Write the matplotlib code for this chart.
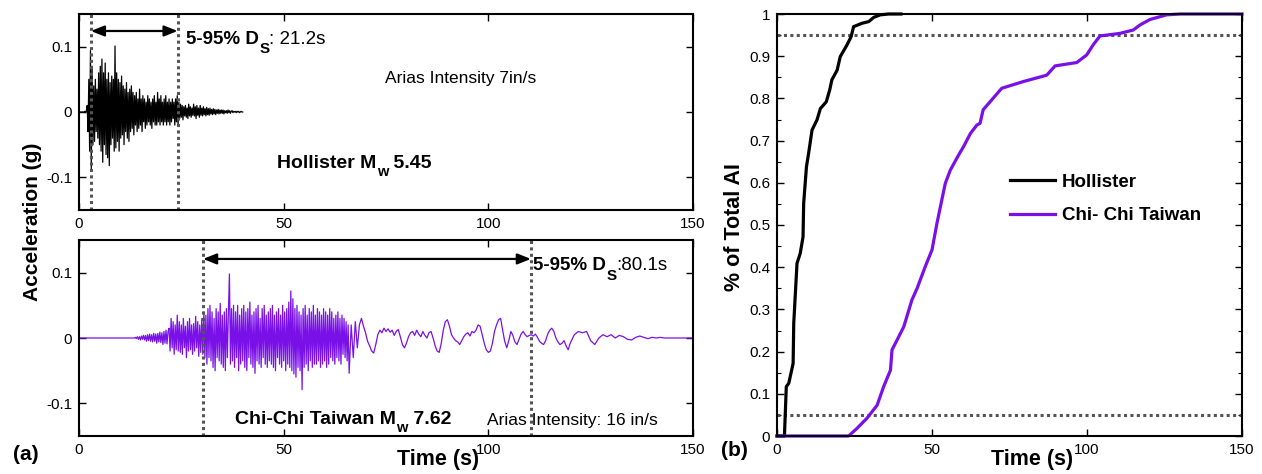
import numpy as np
import matplotlib
matplotlib.use('Agg')
import matplotlib.pyplot as plt
from matplotlib.patches import Rectangle
from matplotlib.ticker import MultipleLocator, FormatStrFormatter

plt.rcParams['font.family'] = ['Liberation Sans', 'DejaVu Sans']
plt.rcParams['mathtext.fontset'] = 'custom'
plt.rcParams['mathtext.rm'] = 'Liberation Sans'
plt.rcParams['mathtext.bf'] = 'Liberation Sans:bold'
plt.rcParams['axes.unicode_minus'] = False

# ---------------- data ----------------
# Hollister acceleration (g), sampled every 0.2 s from t = 0
hollister_t0 = 0.0
hollister_dt = 0.2
hollister_acc = [
    0, 0, 0, 0, 0, 0, 0, 0.001, -0.001, 0.002,
    0.01, -0.03, 0.05, -0.06, 0.094, -0.087, 0.07, -0.05, 0.04, -0.045,
    0.05, -0.03, 0.035, -0.04, 0.06, -0.05, 0.07, -0.06, 0.081, -0.077,
    0.06, -0.05, 0.075, -0.065, 0.05, -0.07, 0.06, -0.082, 0.045, -0.05,
    0.055, -0.04, 0.05, -0.06, 0.101, -0.055, 0.06, -0.045, 0.05, -0.06,
    0.045, -0.04, 0.055, -0.035, 0.04, -0.05, 0.035, -0.03, 0.045, -0.04,
    0.03, -0.045, 0.035, -0.03, 0.04, -0.025, 0.03, -0.035, 0.025, -0.02,
    0.03, -0.03, 0.02, -0.025, 0.035, -0.02, 0.02, -0.03, 0.025, -0.015,
    0.02, -0.025, 0.015, -0.02, 0.025, -0.015, 0.02, -0.02, 0.015, -0.025,
    0.02, -0.015, 0.025, -0.02, 0.015, -0.02, 0.03, -0.015, 0.02, -0.02,
    0.025, -0.015, 0.015, -0.02, 0.02, -0.015, 0.025, -0.02, 0.015, -0.015,
    0.02, -0.02, 0.015, -0.015, 0.02, -0.01, 0.015, -0.02, 0.02, -0.015,
    0.025, -0.02, 0.015, -0.01, 0.012, -0.008, 0.01, -0.012, 0.008, -0.006,
    0.01, -0.008, 0.006, -0.01, 0.012, -0.006, 0.008, -0.008, 0.006, -0.005,
    0.012, -0.006, 0.008, -0.01, 0.01, -0.005, 0.006, -0.008, 0.01, -0.005,
    0.006, -0.006, 0.008, -0.004, 0.005, -0.006, 0.007, -0.004, 0.005, -0.005,
    0.006, -0.003, 0.004, -0.004, 0.005, -0.003, 0.004, -0.004, 0.003, -0.002,
    0.004, -0.003, 0.003, -0.002, 0.003, -0.002, 0.003, -0.003, 0.002, -0.001,
    0.002, -0.002, 0.003, -0.001, 0.002, -0.002, 0.001, 0.002, -0.001, 0.001,
    0.0, 0.001, -0.001, 0.001, 0.0, 0.001, -0.001, 0.0, 0.001, 0.0, 0.0,
]

# Chi-Chi Taiwan acceleration (g), in segments (start time, step, values)
chichi_quiet_t0, chichi_quiet_dt = 0.0, 13.5
chichi_quiet = [0.0, 0.0]

chichi_p_t0, chichi_p_dt = 13.75, 0.25
chichi_p = [0.001, -0.001, 0.002, -0.002, 0.002, -0.003, 0.003, -0.002, 0.004, -0.003,
            0.004, -0.005, 0.005, -0.004, 0.006, -0.005, 0.005, -0.006, 0.007, -0.005,
            0.006, -0.008, 0.007, -0.006, 0.009, -0.007, 0.008, -0.01, 0.01, -0.008,
            0.012, -0.009, 0.01]

chichi_s_t0, chichi_s_dt = 22.0, 0.25
chichi_s = [
    0.015, -0.02, 0.03, -0.015, 0.025, -0.025, 0.02, -0.018,
    0.035, -0.02, 0.025, -0.022, 0.02, -0.025, 0.03, -0.015,
    0.018, -0.03, 0.025, -0.02, 0.03, -0.018, 0.02, -0.025,
    0.022, -0.02, 0.033, -0.015, 0.025, -0.028, 0.02, -0.022,
    0.03, -0.025, 0.04, -0.03, 0.035, -0.04, 0.045, -0.03,
    0.05, -0.035, 0.04, -0.045, 0.03, -0.05, 0.045, -0.03,
    0.04, -0.035, 0.053, -0.04, 0.035, -0.045, 0.04, -0.05,
    0.045, -0.03, 0.04, 0.098, -0.04, 0.045, -0.035, 0.05,
    -0.045, 0.04, -0.03, 0.05, -0.05, 0.035, -0.04, 0.045,
    -0.035, 0.05, -0.045, 0.04, -0.05, 0.045, -0.03, 0.055,
    -0.04, 0.035, -0.045, 0.04, -0.054, 0.045, -0.035, 0.05,
    -0.04, 0.03, -0.045, 0.045, -0.03, 0.05, -0.04, 0.035,
    -0.045, 0.04, -0.035, 0.045, -0.04, 0.05, -0.045, 0.035,
    -0.05, 0.04, -0.03, 0.045, -0.04, 0.035, -0.045, 0.05,
    -0.035, 0.04, -0.05, 0.045, -0.04, 0.055, -0.045, 0.072,
    -0.05, 0.06, -0.055, 0.045, -0.06, 0.05, -0.045, 0.04,
    -0.05, 0.035, -0.079, 0.045, -0.045, 0.05, -0.04, 0.035,
    -0.05, 0.045, -0.035, 0.04, -0.045, 0.05, -0.04, 0.035,
    -0.04, 0.045, -0.035, 0.04, -0.045, 0.035, -0.04, 0.045,
    -0.035, 0.04, -0.045, 0.035, -0.04, 0.045, -0.03, 0.04,
    -0.035, 0.03, -0.04, 0.035, -0.03, 0.04, -0.035, 0.03,
    -0.04, 0.035, -0.025, 0.03, -0.03, 0.025, -0.035, 0.02,
]

chichi_c_t0, chichi_c_dt = 66.0, 0.5
chichi_c = [
    -0.054, 0.02, -0.03, 0.025, -0.015, 0.02, 0.03, 0.018, 0.008, -0.005,
    -0.012, -0.02, -0.023, -0.01, 0.005, 0.012, 0.008, 0.015, 0.01, 0.014,
    0.009, 0.012, 0.004, 0.01, 0.013, 0.002, -0.01, -0.015, -0.008, 0.002,
    0.008, 0.01, 0.004, 0.012, 0.006, 0.002, 0.01, 0.004, 0.0, 0.008,
    0.01, 0.0, -0.012, -0.02, -0.022, -0.008, 0.012, 0.025, 0.028, 0.018,
    0.005, 0.0, -0.004, -0.006, -0.01, -0.004, 0.002, 0.006, 0.008, 0.003,
    0.01, 0.008, 0.012, 0.02, 0.018, 0.005, -0.008, -0.018, -0.022, -0.02,
    -0.008, 0.01, 0.02, 0.028, 0.03, 0.012, -0.005, -0.015, -0.004, 0.01,
    0.004, -0.006, -0.01, -0.002, 0.006, 0.01, 0.005, 0.002, 0.004, 0.005,
    0.003, 0.006, 0.001, -0.005, -0.008, -0.01, -0.004, 0.006, 0.012, 0.015,
    0.01, 0.0, -0.006, -0.01, -0.008, -0.004, -0.012, -0.018,
]

chichi_e_t0, chichi_e_dt = 120.0, 1.0
chichi_e = [-0.008, 0.005, 0.01, 0.008, 0.01, -0.004, -0.01, 0.0, 0.005, 0.002,
            0.005, 0.0, 0.004, 0.002, -0.002, -0.003, 0.001, 0.003, 0.001, -0.001,
            0.001, 0.0, 0.001, 0.0, 0.0, 0.0, 0.0, 0.0, 0.0, 0.0, 0.0]

# 5-95 % significant duration bounds (s)
hollister_d5, hollister_d95 = 2.9, 24.1
chichi_d5, chichi_d95 = 30.3, 110.4

# Normalised cumulative Arias intensity
hollister_cdf_t = [0, 2.4, 3.0, 3.8, 5.2, 5.4, 6.45, 7.5, 8.4, 8.6, 9.5, 10.2, 11.3, 12.9,
                   14.0, 15.9, 17.0, 17.7, 19.4, 20.4, 22.6, 23.9, 24.7, 27.4, 29.6,
                   31.2, 33.3, 36.0, 40.0]
hollister_cdf = [0, 0, 0.117, 0.125, 0.172, 0.267, 0.409, 0.433, 0.472, 0.551, 0.638,
                 0.670, 0.725, 0.749, 0.776, 0.792, 0.820, 0.844, 0.867, 0.899, 0.927,
                 0.946, 0.970, 0.978, 0.982, 0.992, 0.998, 1.0, 1.0]
chichi_cdf_t = [0, 23.1, 25.8, 29.0, 32.3, 34.4, 36.6, 37.1, 38.7, 40.9, 43.5, 45.2,
                47.8, 50.0, 51.6, 52.7, 54.3, 55.9, 58.6, 60.2, 62.4, 64.5, 65.5, 66.5,
                69.2, 72.5, 79.5, 87.0, 89.7, 96.7, 99.9, 102.0, 104.2, 110.6, 114.9,
                117.1, 120.3, 125.7, 130.0, 150.0]
chichi_cdf = [0, 0, 0.018, 0.042, 0.073, 0.117, 0.156, 0.204, 0.227, 0.259, 0.322,
              0.350, 0.401, 0.441, 0.504, 0.543, 0.599, 0.630, 0.666, 0.686, 0.717,
              0.737, 0.741, 0.773, 0.796, 0.824, 0.840, 0.855, 0.877, 0.885, 0.903,
              0.927, 0.948, 0.954, 0.962, 0.974, 0.987, 0.998, 1.0, 1.0]

series_names = ['Hollister', 'Chi- Chi Taiwan']
x_ticks = [0, 50, 100, 150]

# ---------------- build arrays ----------------
def seg_times(t0, dt, vals):
    return t0 + dt * np.arange(len(vals))

h_t = seg_times(hollister_t0, hollister_dt, hollister_acc)
h_a = np.array(hollister_acc)
c_t = np.concatenate([seg_times(chichi_quiet_t0, chichi_quiet_dt, chichi_quiet),
                      seg_times(chichi_p_t0, chichi_p_dt, chichi_p),
                      seg_times(chichi_s_t0, chichi_s_dt, chichi_s),
                      seg_times(chichi_c_t0, chichi_c_dt, chichi_c),
                      seg_times(chichi_e_t0, chichi_e_dt, chichi_e)])
c_a = np.concatenate([chichi_quiet, chichi_p, chichi_s, chichi_c, chichi_e])

PURPLE = '#7a10e8'
DOTC = '#555555'
dot_style = dict(color=DOTC, lw=2.2, ls=(0, (1, 1.1)))

fig = plt.figure(figsize=(12.62, 4.74), dpi=100)
W, H = 1262, 474

def px_axes(x0, y0, x1, y1):
    return fig.add_axes([x0 / W, 1 - y1 / H, (x1 - x0) / W, (y1 - y0) / H])

ax1 = px_axes(79, 14, 693, 210)
ax2 = px_axes(79, 240, 693, 436)
ax3 = px_axes(777, 14, 1242, 436)

def style(ax):
    for s in ax.spines.values():
        s.set_linewidth(1.5)
    ax.tick_params(direction='in', top=True, right=True, labelsize=11,
                   length=5, width=1, pad=5)
    ax.tick_params(which='minor', direction='in', top=True, right=True,
                   length=3, width=0.8)
    ax.set_xlim(0, 150)
    ax.set_xticks(x_ticks)

def sub_text(ax, x, y, main, sub, rest, size, subsize, drop, rest_bold):
    """main text (bold) + lowered bold subscript + trailing text, baseline aligned"""
    t = ax.text(x, y, main, fontsize=size, fontweight='bold', va='baseline', ha='left')
    s = ax.annotate(sub, xy=(1, 0), xycoords=t, xytext=(0.3, -drop),
                    textcoords='offset points', fontsize=subsize, fontweight='bold',
                    va='bottom', ha='left')
    ax.annotate(rest, xy=(1, 0), xycoords=(s, t), fontsize=size,
                fontweight='bold' if rest_bold else 'normal', va='bottom', ha='left')
    return t

for ax in (ax1, ax2):
    style(ax)
    ax.set_ylim(-0.15, 0.15)
    ax.set_yticks([-0.1, 0, 0.1])
    ax.yaxis.set_major_formatter(FormatStrFormatter('%g'))

arrow_props = dict(arrowstyle='<|-|>,head_length=0.8,head_width=0.32',
                   color='black', lw=1.6, shrinkA=0, shrinkB=0)

# --- top: Hollister ---
ax1.plot(h_t, h_a, color='black', lw=0.9)
for xv in (hollister_d5, hollister_d95):
    ax1.axvline(xv, **dot_style)
ax1.annotate('', xy=(hollister_d5, 0.124), xytext=(hollister_d95, 0.124),
             arrowprops=arrow_props)
sub_text(ax1, 26.1, 0.104, '5-95% D', 'S', ': 21.2s', 13.5, 11, 6, False)
ta = ax1.text(74.8, 0.0442, 'Arias Intensity 7in/s', fontsize=12.5,
              va='baseline', ha='left')
ta.set_clip_path(Rectangle((0, 0.0455), 150, 0.2, transform=ax1.transData))
sub_text(ax1, 48.4, -0.086, 'Hollister M', 'w', ' 5.45', 14, 10.5, 5, True)

# --- bottom: Chi-Chi ---
ax2.plot(c_t, c_a, color=PURPLE, lw=0.9)
for xv in (chichi_d5, chichi_d95):
    ax2.axvline(xv, **dot_style)
ax2.annotate('', xy=(chichi_d5, 0.121), xytext=(chichi_d95, 0.121),
             arrowprops=arrow_props)
sub_text(ax2, 110.9, 0.1045, '5-95% D', 'S', ':80.1s', 13.5, 11, 6.5, False)
sub_text(ax2, 38.1, -0.131, 'Chi-Chi Taiwan M', 'w', ' 7.62', 14, 10.5, 5, True)
ax2.text(99.7, -0.133, 'Arias Intensity: 16 in/s', fontsize=12.5, va='baseline',
         ha='left')
ax2.set_xlabel('Time (s)', fontsize=15.5, fontweight='bold')
ax2.xaxis.set_label_coords((438 - 79) / 614, (436 - 459) / 196)
ax2.xaxis.label.set_va('center')

fig.text(33 / W, 1 - 222 / H, 'Acceleration (g)', rotation=90, fontsize=15,
         fontweight='bold', ha='center', va='center')
fig.text(25.5 / W, 1 - 454 / H, '(a)', fontsize=15, fontweight='bold',
         ha='center', va='center')

# --- right: cumulative AI ---
style(ax3)
ax3.set_ylim(0, 1)
ax3.yaxis.set_major_locator(MultipleLocator(0.1))
ax3.yaxis.set_minor_locator(MultipleLocator(0.05))
ax3.yaxis.set_major_formatter(FormatStrFormatter('%g'))
for yv in (0.05, 0.95):
    ax3.axhline(yv, **dot_style)
ax3.plot(hollister_cdf_t, hollister_cdf, color='black', lw=2.3, label=series_names[0],
         clip_on=False, solid_joinstyle='round')
ax3.plot(chichi_cdf_t, chichi_cdf, color=PURPLE, lw=2.3, label=series_names[1],
         clip_on=False, solid_joinstyle='round')
ax3.legend(loc='center left', bbox_to_anchor=(0.501, 0.5616), frameon=False,
           prop=dict(weight='bold', size=13.5), handlelength=2.4,
           handletextpad=0.37, labelspacing=0.85, borderpad=0, borderaxespad=0)
ax3.set_xlabel('Time (s)', fontsize=15.5, fontweight='bold')
ax3.xaxis.set_label_coords((1032 - 777) / 465, (436 - 459) / 422)
ax3.xaxis.label.set_va('center')
ax3.set_ylabel('% of Total AI', fontsize=15.5, fontweight='bold')
ax3.yaxis.set_label_coords(-(777 - 734) / 465, (436 - 227) / 422)
ax3.yaxis.label.set_va('center')
fig.text(734.5 / W, 1 - 451 / H, '(b)', fontsize=15, fontweight='bold',
         ha='center', va='center')

fig.savefig('out.png', dpi=100)
